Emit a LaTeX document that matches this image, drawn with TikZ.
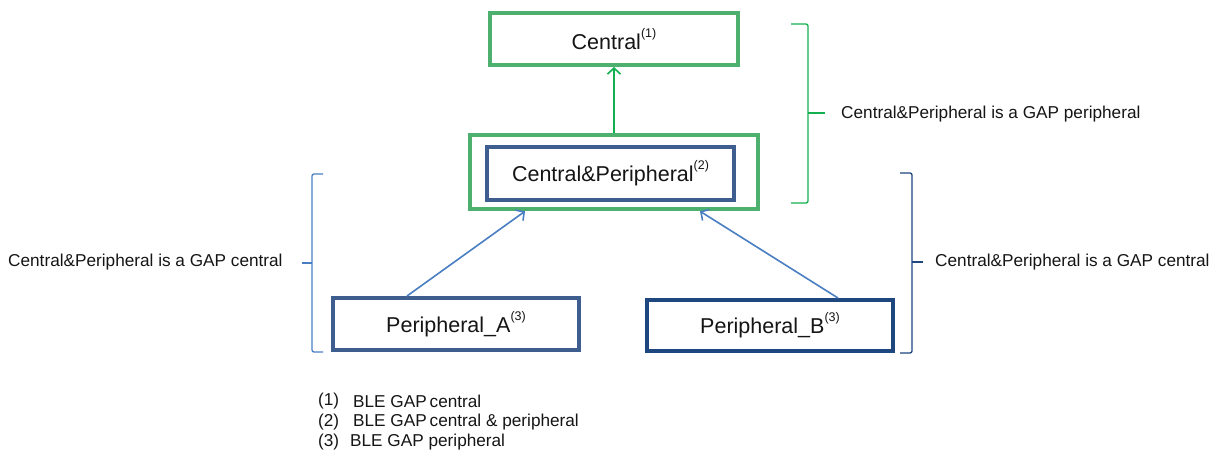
\documentclass[tikz,border=0pt]{standalone}
\usepackage{fontspec}
\setmainfont{Liberation Sans}
\usetikzlibrary{arrows.meta}
\definecolor{boxgreen}{HTML}{4DB06F}
\definecolor{brightgreen}{HTML}{12B04F}
\definecolor{boxblue}{HTML}{3D5E8E}
\definecolor{navyblue}{HTML}{1F477F}
\definecolor{lineblue}{HTML}{4A7EC2}
\definecolor{textblack}{HTML}{151515}
\newcommand{\fnmark}[1]{\raisebox{0.55em}{\fontsize{12.5}{13}\selectfont(#1)}}
\tikzset{
  bigbox/.style={draw, rectangle, inner sep=0pt, fill=white, text=textblack,
    font=\fontsize{21.5}{24}\selectfont, line width=4pt},
  sidetext/.style={anchor=west, inner sep=0pt, text=textblack, font=\fontsize{17.2}{20}\selectfont},
  bracketline/.style={line width=1.3pt, rounded corners=2pt},
  linkarrow/.style={line width=1.6pt, -{Straight Barb[length=6pt,width=13pt,line width=1.6pt]}}
}
\begin{document}
\begin{tikzpicture}[x=1pt,y=-1pt]
\useasboundingbox (0,0) rectangle (1225,453);

% boxes
\node[bigbox, draw=boxgreen, minimum width=248pt, minimum height=52.5pt] (central) at (614,38.75) {Central\fnmark{1}};
\node[bigbox, draw=boxgreen, line width=4.5pt, minimum width=288pt, minimum height=74pt] (outer) at (614,172) {};
\node[bigbox, draw=boxblue, minimum width=247pt, minimum height=53pt] (cp) at (610.5,173.5) {Central\&Peripheral\fnmark{2}};
\node[bigbox, draw=boxblue, minimum width=246pt, minimum height=52pt] (pa) at (456,324) {Peripheral\_A\fnmark{3}};
\node[bigbox, draw=navyblue, minimum width=246pt, minimum height=51pt] (pb) at (770,325.5) {Peripheral\_B\fnmark{3}};

% connectors
\draw[linkarrow, draw=brightgreen] (outer.north) -- (central.south);
\draw[linkarrow, draw=lineblue] ([xshift=-49pt]pa.north) -- ([xshift=-89pt]outer.south);
\draw[linkarrow, draw=lineblue] ([xshift=68pt]pb.north) -- ([xshift=86pt]outer.south);

% brackets
\draw[bracketline, draw=brightgreen] (791,24) -- (808,24) -- (808,203) -- (791,203);
\draw[bracketline, draw=brightgreen] (808,113) -- (825,113);
\draw[bracketline, draw=lineblue] (323,174) -- (312,174) -- (312,352) -- (323,352);
\draw[bracketline, draw=lineblue] (312,263) -- (302,263);
\draw[bracketline, draw=navyblue] (900,173) -- (912,173) -- (912,353) -- (900,353);
\draw[bracketline, draw=navyblue] (912,262) -- (923,262);

% bracket labels
\node[sidetext] (lblperi) at (841,114) {Central\&Peripheral is a GAP peripheral};
\node[sidetext] (lblcenl) at (8,262) {Central\&Peripheral is a GAP central};
\node[sidetext] (lblcenr) at (935,262) {Central\&Peripheral is a GAP central};

% notes
\node[sidetext] (n1) at (318,401) {(1)};
\node[sidetext] (t1) at (353,401) {BLE GAP\,central};
\node[sidetext] (n2) at (318,422) {(2)};
\node[sidetext] (t2) at (353,422) {BLE GAP\,central \& peripheral};
\node[sidetext] (n3) at (318,442) {(3)};
\node[sidetext] (t3) at (350,442) {BLE GAP peripheral};
\end{tikzpicture}
\end{document}
